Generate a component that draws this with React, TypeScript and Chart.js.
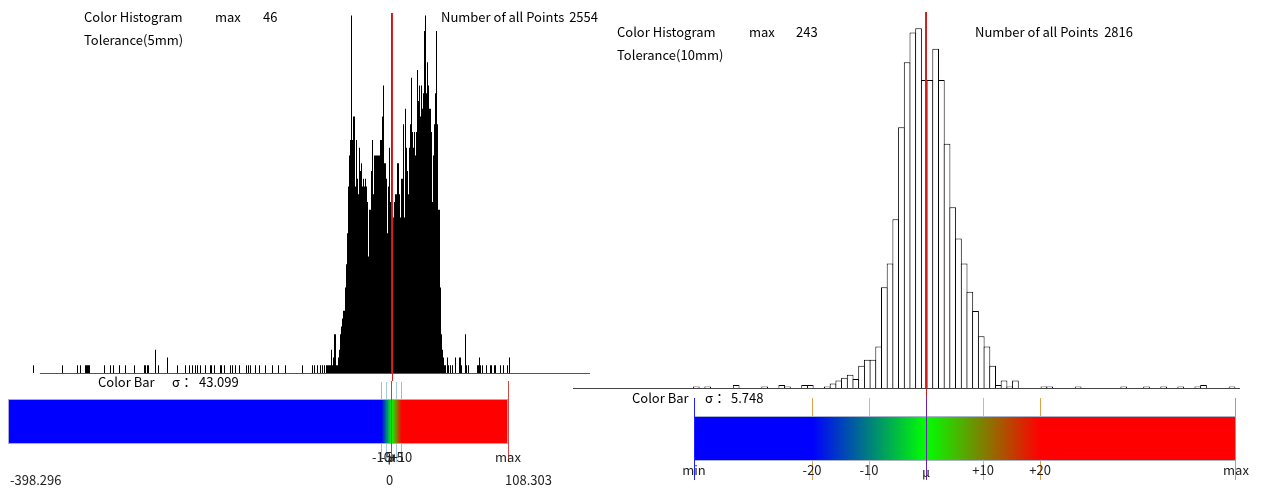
import React, { useEffect, useRef } from 'react';
import { Chart, registerables, LinearScale } from 'chart.js';

Chart.register(...registerables);

// ---------------- data ----------------
// left panel (Tolerance 5mm)
const leftTitle = 'Color Histogram';
const leftMaxCount = 46;
const leftTotalPoints = 2554;
const leftToleranceLabel = 'Tolerance(5mm)';
const leftSigma = '43.099';
const leftMu = 0;
const leftTol = 5;
const leftRangeMin = -398.296;
const leftRangeMax = 108.303;
const leftTickOffsets = [-10, -5, 0, 5, 10];
const leftTickLabels = ['-10', '-5', 'μ', '+5', '+10'];
const leftMuLabel = '0';
const leftCoreStart = -56;
const leftCoreCounts = [
  5, 1, 1, 2, 3, 5, 6, 7, 8, 8,
  11, 14, 18, 24, 28, 30, 46, 30, 33, 33,
  24, 30, 25, 23, 29, 26, 27, 24, 25, 24,
  25, 24, 22, 15, 21, 21, 26, 30, 23, 28,
  28, 28, 28, 28, 28, 30, 30, 33, 37, 27,
  27, 25, 18, 24, 29, 22, 29, 20, 20, 22,
  23, 23, 27, 27, 23, 20, 25, 25, 32, 20,
  34, 29, 26, 23, 29, 32, 38, 31, 29, 31,
  28, 31, 39, 35, 37, 33, 37, 34, 36, 44,
  46, 36, 40, 37, 34, 34, 31, 22, 28, 32,
  36, 44, 32, 21, 21, 11, 5, 3, 2, 1,
  1,
];
const leftOutlierBins = [
  -358, -329, -314, -311, -306, -305, -304, -303, -302, -287, -281, -278, -272, -266, -257,
  -247, -246, -244, -243, -236, -233, -224, -214, -206, -202, -199, -196, -194, -191, -186,
  -181, -180, -177, -171, -170, -167, -161, -159, -156, -152, -145, -143, -141, -136, -132,
  -126, -119, -113, -106, -89, -79, -77, -74, -71, -69, -67, -65, -64, -63, -62, -61, -60,
  -59, -58, -57,
  56, 57, 59, 61, 64, 68, 69, 70, 74, 75, 77, 86, 87, 88, 89, 91, 95, 99, 100, 103, 104,
  109, 112, 116, 118,
];
const leftOutlierCounts = [
  1, 1, 1, 1, 1, 1, 1, 1, 1, 1, 1, 1, 1, 1, 1,
  1, 1, 1, 1, 3, 1, 2, 1, 1, 1, 1, 1, 1, 1, 1,
  1, 1, 1, 1, 1, 1, 1, 1, 1, 1, 1, 1, 1, 1, 1,
  1, 1, 1, 1, 1, 1, 1, 1, 1, 1, 1, 1, 1, 1, 1, 1, 3,
  1, 2, 5,
  2, 1, 1, 1, 2, 2, 2, 1, 5, 1, 1, 1, 1, 2, 1, 1, 1, 1, 1, 1, 1,
  1, 1, 1, 2,
];

// right panel (Tolerance 10mm)
const rightTitle = 'Color Histogram';
const rightMaxCount = 243;
const rightTotalPoints = 2816;
const rightToleranceLabel = 'Tolerance(10mm)';
const rightSigma = '5.748';
const rightMu = 0.82;
const rightTol = 10;
const rightRangeMin = -39.9;
const rightRangeMax = 55.2;
const rightTickOffsets = [-20, -10, 0, 10, 20];
const rightTickLabels = ['-20', '-10', 'μ', '+10', '+20'];
const rightCoreStart = -17;
const rightCoreCounts = [
  1, 3, 5, 7, 9, 6, 15, 19, 19, 28, 68, 84, 114, 176, 220, 240, 243,
  208, 208, 229, 208, 165, 122, 101, 84, 65, 52, 35, 28, 15, 2, 5, 1, 5,
];
const rightOutlierBins = [-40, -38, -33, -28, -25, -24, -21, -20, 21, 22, 27, 35, 39, 42, 45, 48, 49, 54];
const rightOutlierCounts = [1, 1, 2, 1, 2, 1, 2, 2, 1, 1, 1, 1, 1, 1, 1, 1, 2, 1];

// ---------------- layout / style ----------------
const W = 1262;
const H = 488;
const FONT = '13px "Noto Sans CJK JP", "DejaVu Sans", sans-serif';

const L = {
  histLeft: 0, histRight: 600, histBottom: 373, histView: [-391.5, 208.5], histYMax: 48,
  baseX0: 40, baseX1: 590, lineTop: 13,
  barLeft: 8, barRight: 508, barTop: 399, barBottom: 444, muPx: 391.5, innerPxPerUnit: 1,
  tickTop: 382, tickBottom: 462,
};
const R = {
  left: 694, right: 1236, histBottom: 388, histYMax: 262,
  baseX0: 573, baseX1: 1240, lineTop: 12,
  barTop: 416, barBottom: 461, tickTop: 398, tickBottom: 480,
};

// ---------------- custom scale: piecewise linear ----------------
class PiecewiseScale extends (LinearScale as any) {
  static id = 'piecewise';
  static defaults = {};
  getPixelForValue(value: number) {
    if (value === null || value === undefined || isNaN(value)) return NaN;
    const k: number[] = (this as any).options.knots;
    const f: number[] = (this as any).options.knotFractions;
    let i = 0;
    while (i < k.length - 2 && value > k[i + 1]) i++;
    const t = (value - k[i]) / (k[i + 1] - k[i]);
    return (this as any).getPixelForDecimal(f[i] + t * (f[i + 1] - f[i]));
  }
  getValueForPixel(pixel: number) {
    const k: number[] = (this as any).options.knots;
    const f: number[] = (this as any).options.knotFractions;
    const d = (this as any).getDecimalForPixel(pixel);
    let i = 0;
    while (i < f.length - 2 && d > f[i + 1]) i++;
    const t = (d - f[i]) / (f[i + 1] - f[i]);
    return k[i] + t * (k[i + 1] - k[i]);
  }
}
Chart.register(PiecewiseScale as any);

// ---------------- helpers ----------------
function txt(ctx: CanvasRenderingContext2D, s: string, x: number, y: number, align: CanvasTextAlign = 'left', color = '#000') {
  ctx.save();
  ctx.font = FONT;
  ctx.fillStyle = color;
  ctx.textAlign = align;
  ctx.textBaseline = 'middle';
  ctx.fillText(s, x, y);
  ctx.restore();
}
function seg(ctx: CanvasRenderingContext2D, x0: number, y0: number, x1: number, y1: number, color: string, w = 1) {
  ctx.save();
  ctx.strokeStyle = color;
  ctx.lineWidth = w;
  ctx.beginPath();
  ctx.moveTo(x0, y0);
  ctx.lineTo(x1, y1);
  ctx.stroke();
  ctx.restore();
}
const col = (px: number) => Math.floor(px) + 0.5;

function histPoints(coreStart: number, core: number[], bins: number[], counts: number[], shift: number) {
  const pts = core.map((c, i) => ({ x: coreStart + i + shift, y: c }));
  bins.forEach((b, i) => pts.push({ x: b + shift, y: counts[i] }));
  return pts.sort((a, b) => a.x - b.x);
}

function gradientFill(mu: number, tol: number) {
  return (c: any) => {
    const chart = c.chart;
    const xs = chart.scales?.x;
    if (!chart.chartArea || !xs) return '#0000ff';
    const x0 = xs.getPixelForValue(mu - 2 * tol);
    const xm = xs.getPixelForValue(mu);
    const x1 = xs.getPixelForValue(mu + 2 * tol);
    const g = chart.ctx.createLinearGradient(x0, 0, x1, 0);
    g.addColorStop(0, '#0000ff');
    g.addColorStop((xm - x0) / (x1 - x0), '#00ff00');
    g.addColorStop(1, '#ff0000');
    return g;
  };
}

const commonOpts = {
  responsive: false,
  animation: false,
  events: [],
  plugins: { legend: { display: false }, tooltip: { enabled: false } },
};

// ---------------- chart configs ----------------
function leftHistConfig(): any {
  return {
    type: 'bar',
    data: {
      datasets: [{
        data: histPoints(leftCoreStart, leftCoreCounts, leftOutlierBins, leftOutlierCounts, 0),
        backgroundColor: '#000',
        borderWidth: 0,
        barPercentage: 1,
        categoryPercentage: 1,
        inflateAmount: 0,
        clip: false,
      }],
    },
    options: {
      ...commonOpts,
      layout: { padding: { left: L.histLeft, right: W - L.histRight, top: 0, bottom: H - L.histBottom } },
      scales: {
        x: { type: 'linear', min: L.histView[0], max: L.histView[1], display: false, offset: false },
        y: { min: 0, max: L.histYMax, display: false },
      },
    },
    plugins: [{
      id: 'leftHistDecor',
      afterDatasetsDraw(chart: any) {
        const { ctx, chartArea, scales } = chart;
        const yb = chartArea.bottom + 0.5;
        seg(ctx, L.baseX0, yb, L.baseX1, yb, '#555');
        const mx = Math.round(scales.x.getPixelForValue(leftMu));
        seg(ctx, mx - 0.5, L.lineTop, mx - 0.5, chartArea.bottom, '#1d6b1d');
        seg(ctx, mx + 0.5, L.lineTop, mx + 0.5, 381, '#e01e1e');
        txt(ctx, leftTitle, 84, 17);
        txt(ctx, 'max', 215, 17);
        txt(ctx, String(leftMaxCount), 263, 17);
        txt(ctx, leftToleranceLabel, 84, 40);
        txt(ctx, 'Number of all Points', 441, 17);
        txt(ctx, String(leftTotalPoints), 598, 17, 'right');
      },
    }],
  };
}

function leftBarConfig(): any {
  const span = L.barRight - L.barLeft;
  const f1 = (L.muPx - 2 * leftTol * L.innerPxPerUnit - L.barLeft) / span;
  const f2 = (L.muPx + 2 * leftTol * L.innerPxPerUnit - L.barLeft) / span;
  return {
    type: 'bar',
    data: {
      labels: ['Color Bar'],
      datasets: [{
        data: [[leftRangeMin, leftRangeMax]],
        backgroundColor: gradientFill(leftMu, leftTol),
        borderColor: '#aaaad2',
        borderWidth: 1,
        borderSkipped: false,
        barPercentage: 1,
        categoryPercentage: 1,
        inflateAmount: 0,
      }],
    },
    options: {
      ...commonOpts,
      indexAxis: 'y',
      layout: { padding: { left: L.barLeft, right: W - L.barRight, top: L.barTop, bottom: H - L.barBottom } },
      scales: {
        x: {
          type: 'piecewise', min: leftRangeMin, max: leftRangeMax, display: false,
          knots: [leftRangeMin, leftMu - 2 * leftTol, leftMu + 2 * leftTol, leftRangeMax],
          knotFractions: [0, f1, f2, 1],
        },
        y: { display: false },
      },
    },
    plugins: [{
      id: 'leftBarDecor',
      beforeDatasetsDraw(chart: any) {
        const { ctx, scales } = chart;
        leftTickOffsets.forEach((o) => {
          if (o === 0) return;
          const x = col(scales.x.getPixelForValue(leftMu + o));
          const c = Math.abs(o) === 2 * leftTol ? '#d6b07a' : '#a9c9de';
          seg(ctx, x, L.tickTop, x, L.tickBottom, c);
        });
      },
      afterDatasetsDraw(chart: any) {
        const { ctx, scales } = chart;
        const xs = scales.x;
        const xm = col(xs.getPixelForValue(leftMu));
        seg(ctx, xm, 381, xm, L.tickBottom, '#d3306e');
        const xmax = col(xs.getPixelForValue(leftRangeMax));
        seg(ctx, xmax, 381, xmax, L.tickBottom, '#d24b4b');
        leftTickOffsets.forEach((o, i) => {
          txt(ctx, leftTickLabels[i], xs.getPixelForValue(leftMu + o), 457, 'center', '#222');
        });
        txt(ctx, 'max', xs.getPixelForValue(leftRangeMax), 457, 'center', '#222');
        txt(ctx, String(leftRangeMin), xs.getPixelForValue(leftRangeMin) + 2, 480, 'left', '#222');
        txt(ctx, leftMuLabel, xs.getPixelForValue(leftMu) - 2, 480, 'center', '#222');
        txt(ctx, String(leftRangeMax), xs.getPixelForValue(leftRangeMax) - 3, 480, 'left', '#222');
        txt(ctx, 'Color Bar', 98, 382);
        txt(ctx, 'σ：', 172, 382);
        txt(ctx, leftSigma, 199, 382);
      },
    }],
  };
}

function rightHistConfig(): any {
  const unitPx = (R.right - R.left) / (rightRangeMax - rightRangeMin);
  return {
    type: 'bar',
    data: {
      datasets: [{
        data: histPoints(rightCoreStart, rightCoreCounts, rightOutlierBins, rightOutlierCounts, 0.5),
        backgroundColor: '#ffffff',
        borderColor: '#000000',
        borderWidth: 1,
        borderSkipped: 'start',
        barThickness: unitPx + 1,
        inflateAmount: 0,
        clip: false,
      }],
    },
    options: {
      ...commonOpts,
      layout: { padding: { left: R.left, right: W - R.right, top: 0, bottom: H - R.histBottom } },
      scales: {
        x: { type: 'linear', min: rightRangeMin, max: rightRangeMax, display: false, offset: false },
        y: { min: 0, max: R.histYMax, display: false },
      },
    },
    plugins: [{
      id: 'rightHistDecor',
      afterDatasetsDraw(chart: any) {
        const { ctx, chartArea, scales } = chart;
        const yb = chartArea.bottom + 0.5;
        seg(ctx, R.baseX0, yb, R.baseX1, yb, '#444');
        const mx = Math.round(scales.x.getPixelForValue(rightMu));
        seg(ctx, mx - 0.5, R.lineTop, mx - 0.5, chartArea.bottom, '#4f6b1d');
        seg(ctx, mx + 0.5, R.lineTop, mx + 0.5, R.tickTop, '#c81e1e');
        txt(ctx, rightTitle, 617, 32);
        txt(ctx, 'max', 749, 32);
        txt(ctx, String(rightMaxCount), 796, 32);
        txt(ctx, rightToleranceLabel, 617, 55);
        txt(ctx, 'Number of all Points', 975, 32);
        txt(ctx, String(rightTotalPoints), 1133, 32, 'right');
      },
    }],
  };
}

function rightBarConfig(): any {
  return {
    type: 'bar',
    data: {
      labels: ['Color Bar'],
      datasets: [{
        data: [[rightRangeMin, rightRangeMax]],
        backgroundColor: gradientFill(rightMu, rightTol),
        borderColor: '#aab4cc',
        borderWidth: 1,
        borderSkipped: false,
        barPercentage: 1,
        categoryPercentage: 1,
        inflateAmount: 0,
      }],
    },
    options: {
      ...commonOpts,
      indexAxis: 'y',
      layout: { padding: { left: R.left, right: W - R.right, top: R.barTop, bottom: H - R.barBottom } },
      scales: {
        x: { type: 'linear', min: rightRangeMin, max: rightRangeMax, display: false, offset: false },
        y: { display: false },
      },
    },
    plugins: [{
      id: 'rightBarDecor',
      beforeDatasetsDraw(chart: any) {
        const { ctx, scales } = chart;
        rightTickOffsets.forEach((o) => {
          if (o === 0) return;
          const x = col(scales.x.getPixelForValue(rightMu + o));
          const c = Math.abs(o) === 2 * rightTol ? '#e3a04a' : '#a9bfcf';
          seg(ctx, x, R.tickTop, x, R.tickBottom, c);
        });
      },
      afterDatasetsDraw(chart: any) {
        const { ctx, scales } = chart;
        const xs = scales.x;
        const xmin = col(xs.getPixelForValue(rightRangeMin));
        seg(ctx, xmin, R.tickTop, xmin, R.tickBottom, '#1f1fff');
        const xmax = col(xs.getPixelForValue(rightRangeMax) - 0.5);
        seg(ctx, xmax, R.tickTop, xmax, R.tickBottom, '#c98f8f');
        const xm = col(xs.getPixelForValue(rightMu));
        seg(ctx, xm, R.tickTop, xm, R.tickBottom, '#6a22b0');
        txt(ctx, 'min', xs.getPixelForValue(rightRangeMin), 470, 'center', '#222');
        rightTickOffsets.forEach((o, i) => {
          txt(ctx, rightTickLabels[i], xs.getPixelForValue(rightMu + o), o === 0 ? 472 : 470, 'center', '#222');
        });
        txt(ctx, 'max', xs.getPixelForValue(rightRangeMax), 470, 'center', '#222');
        txt(ctx, 'Color Bar', 632, 398);
        txt(ctx, 'σ：', 705, 398);
        txt(ctx, rightSigma, 731, 398);
      },
    }],
  };
}

// ---------------- component ----------------
export default function App() {
  const r1 = useRef<HTMLCanvasElement>(null);
  const r2 = useRef<HTMLCanvasElement>(null);
  const r3 = useRef<HTMLCanvasElement>(null);
  const r4 = useRef<HTMLCanvasElement>(null);

  useEffect(() => {
    const charts: Chart[] = [];
    if (r1.current) charts.push(new Chart(r1.current, leftHistConfig()));
    if (r2.current) charts.push(new Chart(r2.current, leftBarConfig()));
    if (r3.current) charts.push(new Chart(r3.current, rightHistConfig()));
    if (r4.current) charts.push(new Chart(r4.current, rightBarConfig()));
    return () => charts.forEach((c) => c.destroy());
  }, []);

  const cs: React.CSSProperties = { position: 'absolute', left: 0, top: 0, width: W, height: H };
  return (
    <div style={{ position: 'absolute', left: 0, top: 0, width: W, height: H, background: '#fff', overflow: 'hidden' }}>
      <canvas ref={r1} width={W} height={H} style={cs} />
      <canvas ref={r2} width={W} height={H} style={cs} />
      <canvas ref={r3} width={W} height={H} style={cs} />
      <canvas ref={r4} width={W} height={H} style={cs} />
    </div>
  );
}
